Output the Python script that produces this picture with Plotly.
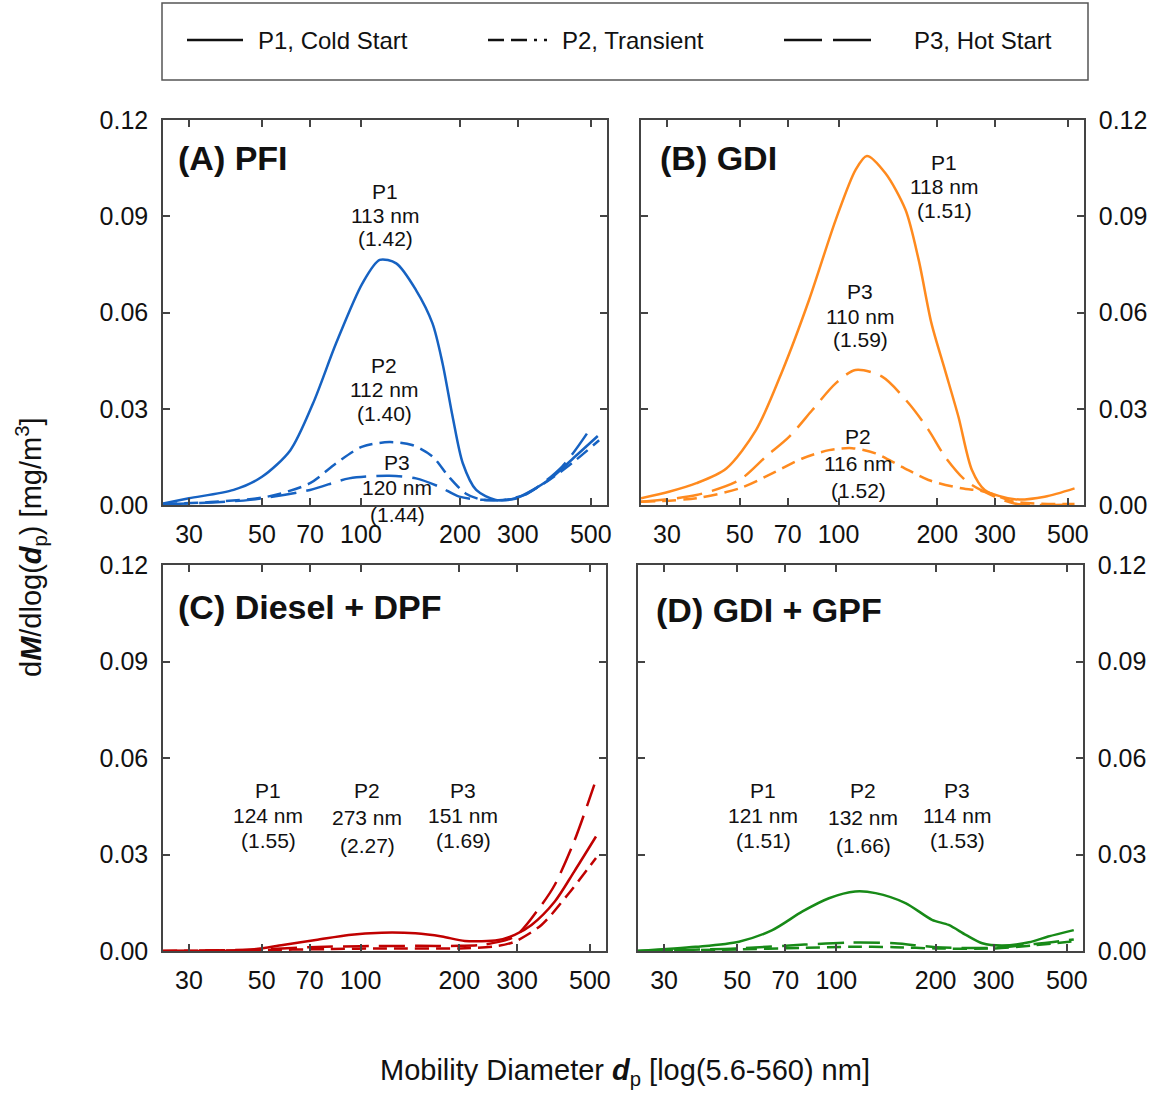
import math
import plotly.graph_objects as go

W, H = 1155, 1094

# ---------------- data ----------------
series_names = ["P1, Cold Start", "P2, Transient", "P3, Hot Start"]
x_tick_vals = [30, 50, 70, 100, 200, 300, 500]
x_tick_text = ["30", "50", "70", "100", "200", "300", "500"]
y_tick_vals = [0.0, 0.03, 0.06, 0.09, 0.12]
y_tick_text = ["0.00", "0.03", "0.06", "0.09", "0.12"]

# (A) PFI
A_P1_x = [25, 30, 41, 50, 61, 71.5, 84, 101, 114, 128, 147, 165, 177, 190, 204, 224, 257, 295, 372, 448, 525]
A_P1_y = [0.0005, 0.0021, 0.0047, 0.0088, 0.0171, 0.0317, 0.0504, 0.0691, 0.0764, 0.0753, 0.0670, 0.0566,
          0.0442, 0.0275, 0.0130, 0.0047, 0.0016, 0.0021, 0.0078, 0.0151, 0.0215]
A_P2_x = [25, 36, 52, 70, 84, 101, 122, 143, 165, 185, 208, 234, 270, 300, 370, 450, 530]
A_P2_y = [0.0003, 0.0010, 0.0026, 0.0068, 0.0130, 0.0182, 0.0196, 0.0187, 0.0151, 0.0088, 0.0036, 0.0016,
          0.0016, 0.0022, 0.0075, 0.0140, 0.0202]
A_P3_x = [25, 46, 70, 92, 122, 147, 173, 199, 234, 270, 320, 409, 495]
A_P3_y = [0.0002, 0.0016, 0.0047, 0.0083, 0.0091, 0.0083, 0.0057, 0.0026, 0.0016, 0.0016, 0.0035, 0.0120, 0.0234]

# (B) GDI
B_P1_x = [25, 30.6, 36.9, 45.5, 56.1, 67.6, 81.3, 98, 112.6, 122, 139, 160, 175.5, 192, 211, 232, 255, 279, 344, 425, 524]
B_P1_y = [0.0021, 0.0042, 0.0068, 0.0114, 0.0234, 0.0421, 0.0639, 0.0888, 0.1044, 0.1088, 0.1034, 0.0920,
          0.0764, 0.0566, 0.0421, 0.0275, 0.0109, 0.0047, 0.0018, 0.0026, 0.0052]
B_P2_x = [25, 36.9, 49.9, 63, 77.6, 93.6, 110, 129.7, 156, 188, 237, 279, 344, 524]
B_P2_y = [0.0010, 0.0021, 0.0052, 0.0099, 0.0145, 0.0171, 0.0177, 0.0161, 0.0119, 0.0078, 0.0052, 0.0042, 0.0010, 0.0003]
B_P3_x = [25, 36.9, 49.9, 60.1, 70.8, 83.2, 98, 112.6, 135.8, 163.6, 188, 211, 243, 271, 344, 524]
B_P3_y = [0.0010, 0.0031, 0.0078, 0.0151, 0.0213, 0.0296, 0.0379, 0.0421, 0.0400, 0.0317, 0.0234, 0.0151,
          0.0078, 0.0047, 0.0005, 0.0002]

# (C) Diesel + DPF
C_P1_x = [25, 45, 58, 73, 92, 116, 147, 177, 208, 263, 295, 332, 391, 448, 522]
C_P1_y = [0.0, 0.0003, 0.0019, 0.0034, 0.0050, 0.0057, 0.0055, 0.0045, 0.0031, 0.0034, 0.0050, 0.0081,
          0.0154, 0.0247, 0.0356]
C_P2_x = [25, 50, 80, 120, 200, 260, 295, 356, 428, 522]
C_P2_y = [0.0, 0.0003, 0.0006, 0.0008, 0.0008, 0.0015, 0.0029, 0.0081, 0.0175, 0.0289]
C_P3_x = [25, 50, 70, 100, 150, 200, 234, 295, 356, 391, 448, 516]
C_P3_y = [0.0, 0.0005, 0.0012, 0.0015, 0.0016, 0.0016, 0.0019, 0.0045, 0.0143, 0.0206, 0.0341, 0.0517]

# (D) GDI + GPF
D_P1_x = [25, 37.4, 50.6, 63.9, 78.9, 94.9, 114, 131.5, 162, 195, 219, 247, 277, 318, 384, 439, 525]
D_P1_y = [0.0, 0.0013, 0.0029, 0.0065, 0.0123, 0.0164, 0.0185, 0.0180, 0.0149, 0.0097, 0.0081, 0.0050,
          0.0024, 0.0017, 0.0027, 0.0045, 0.0065]
D_P2_x = [25, 50, 80, 110, 150, 200, 300, 400, 525]
D_P2_y = [0.0, 0.0005, 0.0010, 0.0013, 0.0012, 0.0008, 0.0008, 0.0018, 0.0030]
D_P3_x = [25, 50, 80, 110, 150, 200, 300, 400, 525]
D_P3_y = [0.0, 0.0008, 0.0020, 0.0026, 0.0024, 0.0012, 0.0010, 0.0022, 0.0036]

panel_titles = ["(A) PFI", "(B) GDI", "(C) Diesel + DPF", "(D) GDI + GPF"]

A_labels = [["P1", "113 nm", "(1.42)"], ["P2", "112 nm", "(1.40)"], ["P3", "120 nm", "(1.44)"]]
B_labels = [["P1", "118 nm", "(1.51)"], ["P3", "110 nm", "(1.59)"], ["P2", "116 nm", "(1.52)"]]
C_labels = [["P1", "124 nm", "(1.55)"], ["P2", "273 nm", "(2.27)"], ["P3", "151 nm", "(1.69)"]]
D_labels = [["P1", "121 nm", "(1.51)"], ["P2", "132 nm", "(1.66)"], ["P3", "114 nm", "(1.53)"]]

# ---------------- styles / layout ----------------
FONT = "Arial, Liberation Sans, sans-serif"
colors = ["#1662C2", "#FF8A1E", "#C00000", "#178A17"]
dashes = ["solid", "14px,7px", "26px,10px"]
LW = 2.5

def px(x):
    return x / W

def py(y):
    return 1 - y / H

domains = [
    ([px(163), px(607)], [py(505), py(120)], "left"),
    ([px(641), px(1084)], [py(505), py(120)], "right"),
    ([px(163), px(606)], [py(951), py(565)], "left"),
    ([px(638), px(1083)], [py(951), py(565)], "right"),
]

panels = [
    [(A_P1_x, A_P1_y), (A_P2_x, A_P2_y), (A_P3_x, A_P3_y)],
    [(B_P1_x, B_P1_y), (B_P2_x, B_P2_y), (B_P3_x, B_P3_y)],
    [(C_P1_x, C_P1_y), (C_P2_x, C_P2_y), (C_P3_x, C_P3_y)],
    [(D_P1_x, D_P1_y), (D_P2_x, D_P2_y), (D_P3_x, D_P3_y)],
]

fig = go.Figure()
layout = dict(
    width=W, height=H, margin=dict(l=0, r=0, t=0, b=0, pad=0, autoexpand=False),
    paper_bgcolor="white", plot_bgcolor="white",
    showlegend=False, font=dict(family=FONT, color="#111"),
)

for i, (dx, dy, side) in enumerate(domains):
    n = "" if i == 0 else str(i + 1)
    for j, (xs, ys) in enumerate(panels[i]):
        fig.add_trace(go.Scatter(
            x=xs, y=ys, mode="lines", name=series_names[j],
            line=dict(color=colors[i], width=LW, dash=dashes[j], shape="spline", smoothing=0.8),
            xaxis="x" + n, yaxis="y" + n,
        ))
    layout["xaxis" + n] = dict(
        domain=dx, anchor="y" + n, type="log", automargin=False,
        range=[math.log10(25), math.log10(560)],
        tickvals=x_tick_vals, ticktext=x_tick_text,
        ticks="inside", ticklen=7, tickwidth=1.5, tickcolor="#444",
        showline=True, linecolor="#444", linewidth=1.5, mirror="ticks",
        showgrid=False, zeroline=False,
        tickfont=dict(size=25, family=FONT, color="#111"),
        ticklabelstandoff=6,
    )
    layout["yaxis" + n] = dict(
        domain=dy, anchor="x" + n, side=side, range=[0, 0.12], automargin=False,
        tickvals=y_tick_vals, ticktext=y_tick_text,
        ticks="inside", ticklen=7, tickwidth=1.5, tickcolor="#444",
        showline=True, linecolor="#444", linewidth=1.5, mirror="ticks",
        showgrid=False, zeroline=False,
        tickfont=dict(size=25, family=FONT, color="#111"),
        ticklabelstandoff=8,
    )

annotations = []
# panel titles
title_pos = [(176, 158), (658, 158), (176, 607), (654, 610)]
for t, (x0, y0) in zip(panel_titles, title_pos):
    annotations.append(dict(x=px(x0), y=py(y0), xref="paper", yref="paper", text="<b>" + t + "</b>",
                            showarrow=False, xanchor="left", yanchor="middle",
                            font=dict(size=34, family=FONT, color="#111")))

# peak labels: (center x, first-line center y, line spacing)
label_pos = [
    [(385, 191, 24), (384, 365, 24), (397, 462, 26)],
    [(944, 162, 24), (860, 292, 24), (858, 437, 26.5)],
    [(268, 790, 25), (367, 790, 27.5), (463, 790, 25)],
    [(763, 790, 25), (863, 790, 27.5), (957, 790, 25)],
]
all_labels = [A_labels, B_labels, C_labels, D_labels]
for labels, poss in zip(all_labels, label_pos):
    for lines, (cx, cy, sp) in zip(labels, poss):
        for k, line in enumerate(lines):
            annotations.append(dict(x=px(cx), y=py(cy + k * sp), xref="paper", yref="paper", text=line,
                                    showarrow=False, xanchor="center", yanchor="middle",
                                    font=dict(size=21, family=FONT, color="#111")))

# axis titles
annotations.append(dict(x=px(625), y=py(1072), xref="paper", yref="paper",
                        text="Mobility Diameter <b><i>d</i></b><sub>p</sub> [log(5.6-560) nm]",
                        showarrow=False, xanchor="center", yanchor="middle",
                        font=dict(size=29, family=FONT, color="#111")))
annotations.append(dict(x=px(31), y=py(548), xref="paper", yref="paper",
                        text="d<b><i>M</i></b>/dlog(<b><i>d</i></b><sub>p</sub>) [mg/m<sup>3</sup>]",
                        showarrow=False, xanchor="center", yanchor="middle", textangle=-90,
                        font=dict(size=29, family=FONT, color="#111")))

# legend box
shapes = [dict(type="rect", xref="paper", yref="paper", x0=px(162), x1=px(1088), y0=py(80), y1=py(3),
               line=dict(color="#555", width=1.5), fillcolor="rgba(0,0,0,0)")]
legend_items = [((187, 243), 256, "solid"), ((488, 547), 560, "16px,7px,16px,7px,3px,7px"), ((784, 872), 912, "38px,11px")]
for name, ((lx0, lx1), tx, dsh) in zip(series_names, legend_items):
    shapes.append(dict(type="line", xref="paper", yref="paper", x0=px(lx0), x1=px(lx1), y0=py(40), y1=py(40),
                       line=dict(color="#111", width=2.5, dash=dsh)))
    annotations.append(dict(x=px(tx), y=py(40), xref="paper", yref="paper", text=name, showarrow=False,
                            xanchor="left", yanchor="middle", font=dict(size=24, family=FONT, color="#111")))

layout["annotations"] = annotations
layout["shapes"] = shapes
fig.update_layout(**layout)
fig.write_html("out.html")
